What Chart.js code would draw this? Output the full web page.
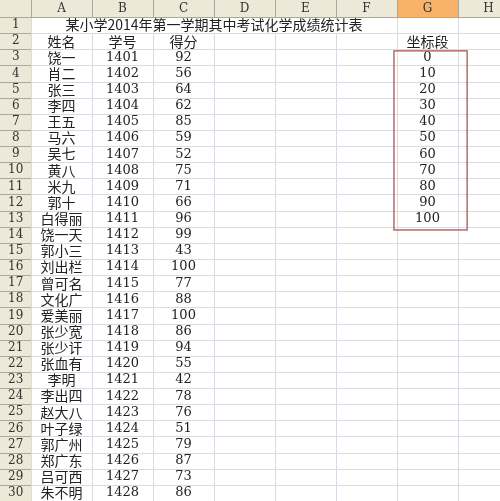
<!DOCTYPE html>
<html><head><meta charset="utf-8">
<script src="https://cdn.jsdelivr.net/npm/chart.js@4/dist/chart.umd.min.js"></script>
<style>html,body{margin:0;padding:0;background:#fff}#w{width:500px;height:501px}</style>
</head><body><div id="w"><canvas id="c"></canvas></div>
<script>
const title = "某小学2014年第一学期其中考试化学成绩统计表";
const headers = ["姓名","学号","得分"];
const names = ["饶一","肖二","张三","李四","王五","马六","吴七","黄八","米九","郭十","白得丽","饶一天","郭小三","刘出栏","曾可名","文化广","爱美丽","张少宽","张少讦","张血有","李明","李出四","赵大八","叶子绿","郭广州","郑广东","吕可西","朱不明"];
const ids = [1401,1402,1403,1404,1405,1406,1407,1408,1409,1410,1411,1412,1413,1414,1415,1416,1417,1418,1419,1420,1421,1422,1423,1424,1425,1426,1427,1428];
const scores = [92,56,64,62,85,59,52,75,71,66,96,99,43,100,77,88,100,86,94,55,42,78,76,51,79,87,73,86];
const segHeader = "坐标段";
const segments = [0,10,20,30,40,50,60,70,80,90,100];
const colLetters = ["A","B","C","D","E","F","G","H"];
const rowCount = 30;

const FONT = '"Noto Sans CJK SC", sans-serif';
const sheet = {
  id:'sheet',
  afterDraw(chart){
    const ctx = chart.ctx, xs = chart.scales.x, ys = chart.scales.y;
    const X = v => xs.getPixelForValue(v), Y = v => ys.getPixelForValue(v);
    const W = chart.width, H = chart.height;
    ctx.save();
    ctx.fillStyle = '#ece9d8';
    ctx.fillRect(0,0,W,Y(0));
    ctx.fillRect(0,0,X(0),H);
    ctx.fillStyle = '#f7b36a';
    ctx.fillRect(X(6),0,X(7)-X(6),Y(0));
    ctx.lineWidth = 1;
    ctx.strokeStyle = '#d8dbe3';
    for(let c=0;c<=colLetters.length;c++){
      const x=Math.round(X(c))+0.5; const top = (c>=1 && c<=5) ? Y(1) : Y(0);
      ctx.beginPath(); ctx.moveTo(x,top); ctx.lineTo(x,H); ctx.stroke();
    }
    for(let r=1;r<=rowCount;r++){
      const y=Math.round(Y(r))+0.5; ctx.beginPath(); ctx.moveTo(X(0),y); ctx.lineTo(W,y); ctx.stroke();
    }
    ctx.strokeStyle = '#aca899';
    for(let c=0;c<=colLetters.length;c++){ const x=Math.round(X(c))+0.5; ctx.beginPath(); ctx.moveTo(x,0); ctx.lineTo(x,Y(0)); ctx.stroke(); }
    for(let r=0;r<=rowCount;r++){ const y=Math.round(Y(r))+0.5; ctx.beginPath(); ctx.moveTo(0,y); ctx.lineTo(X(0),y); ctx.stroke(); }
    ctx.beginPath(); ctx.moveTo(X(0),Math.round(Y(0))+0.5); ctx.lineTo(W,Math.round(Y(0))+0.5); ctx.stroke();
    ctx.textAlign='center'; ctx.textBaseline='middle';
    ctx.fillStyle='#333'; ctx.font='12px "DejaVu Serif", serif';
    colLetters.forEach((l,i)=>ctx.fillText(l,(X(i)+X(i+1))/2,Y(-0.5)));
    for(let r=1;r<=rowCount;r++) ctx.fillText(String(r),X(-0.25),Y(r-0.5));
    const cy = r => Y(r-0.5), cx = c => (X(c)+X(c+1))/2;
    ctx.fillStyle='#222'; ctx.font='14px '+FONT;
    ctx.fillText(title, (X(0)+X(6))/2, cy(1));
    headers.forEach((h,i)=>ctx.fillText(h,cx(i),cy(2)));
    ctx.fillText(segHeader,cx(6),cy(2));
    names.forEach((n,i)=>{ ctx.font='14px '+FONT; ctx.fillText(n,cx(0),cy(i+3));
      ctx.font='13px "DejaVu Serif", serif'; ctx.fillText(String(ids[i]),cx(1),cy(i+3)); ctx.fillText(String(scores[i]),cx(2),cy(i+3)); });
    ctx.font='13px "DejaVu Serif", serif';
    segments.forEach((s,i)=>ctx.fillText(String(s),cx(6),cy(i+3)));
    ctx.strokeStyle='#b56b6b'; ctx.lineWidth=1.5;
    ctx.strokeRect(X(5.95),Y(2.1),X(7.15)-X(5.95),Y(13.2)-Y(2.1));
    ctx.restore();
  }
};
new Chart(document.getElementById('c'),{
  type:'scatter',
  data:{datasets:[{data:[]}]},
  options:{
    responsive:true, maintainAspectRatio:false, animation:false,
    layout:{padding:0},
    plugins:{legend:{display:false},tooltip:{enabled:false}},
    scales:{
      x:{type:'linear',min:-31/61,max:469/61,display:false},
      y:{type:'linear',min:-17/16.13,max:rowCount,reverse:true,display:false}
    }
  },
  plugins:[sheet]
});
</script></body></html>
